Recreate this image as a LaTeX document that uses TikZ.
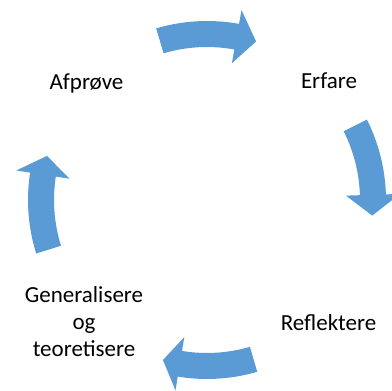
\documentclass[tikz,border=0pt]{standalone}
\usepackage{fontspec}
\setmainfont{Carlito}
\definecolor{arrowblue}{HTML}{5B9BD5}
\newcommand{\cyclearrow}[3]{% tail angle, wing angle, tip angle
  \fill[arrowblue] (#1:179) arc[start angle=#1, end angle=#2, radius=179]
    -- (#2:193) -- (#3:166) -- (#2:139) -- (#2:153)
    arc[start angle=#2, end angle=#1, radius=153] -- cycle;}
\begin{document}
\begin{tikzpicture}[x=1pt,y=1pt,
  lbl/.style={font=\fontsize{23}{27}\selectfont, align=center, inner sep=0pt, anchor=base}]
\useasboundingbox (0,0) rectangle (392,391);
\begin{scope}[shift={(207,191)}]
  \cyclearrow{106.5}{79.7}{72.8}
  \cyclearrow{26.7}{1.8}{-5.4}
  \cyclearrow{-73.7}{-99.4}{-105.4}
  \cyclearrow{-162.6}{-188.8}{-195.4}
\end{scope}
\node[lbl] (afp) at (86.5,301) {Afprøve};
\node[lbl] (erf) at (329,302) {Erfare};
\node[lbl] (ref) at (328.5,60) {Reflektere};
\node[lbl] (gen) at (84,88) {Generalisere};
\node[lbl] (og) at (84,61) {og};
\node[lbl] (teo) at (84,34) {teoretisere};
\end{tikzpicture}
\end{document}
